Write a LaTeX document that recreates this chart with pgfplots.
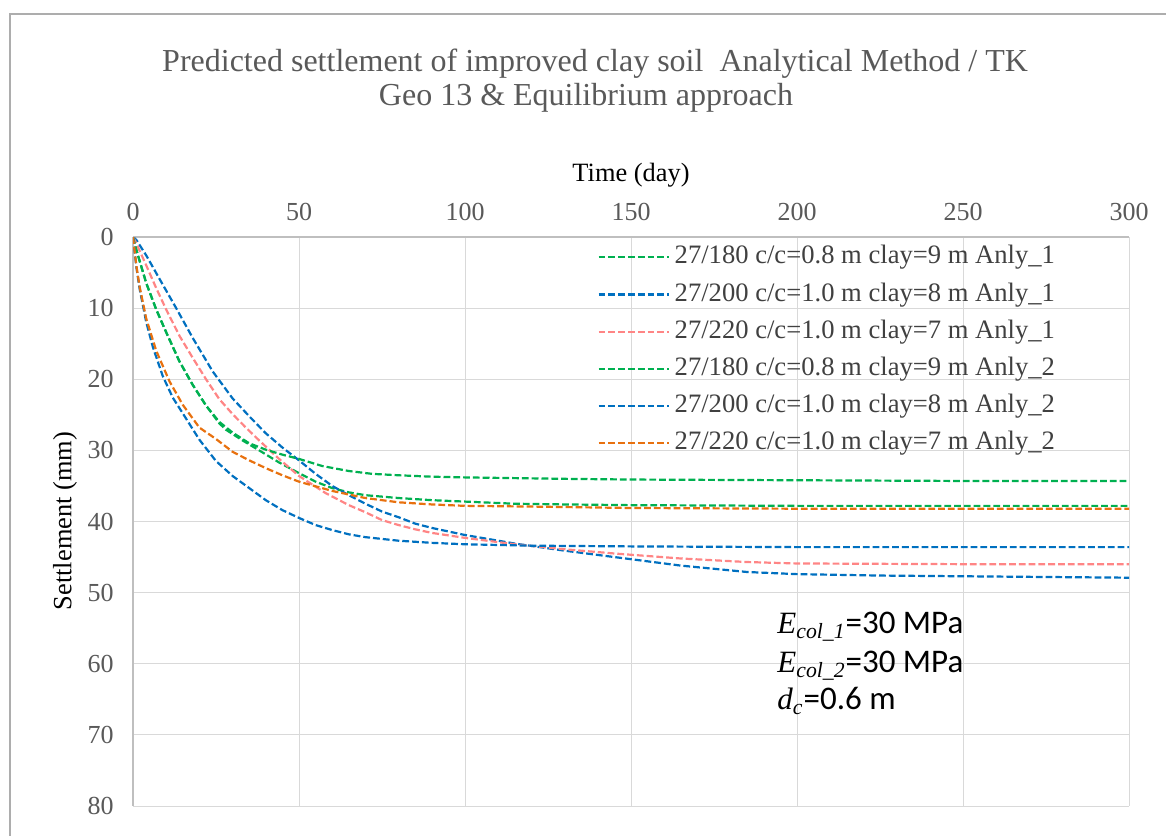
\documentclass[border=0pt]{standalone}
\usepackage{fontspec}
\setmainfont{Liberation Serif}
\newfontfamily\calibri{Carlito}
\usepackage{pgfplots}
\usepackage{pgfplotstable}
\pgfplotsset{compat=1.18}

\definecolor{cgreen}{HTML}{00B050}
\definecolor{cblue}{HTML}{0070C0}
\definecolor{cpink}{HTML}{FF8585}
\definecolor{corange}{HTML}{E8710F}
\definecolor{gridgray}{HTML}{D9D9D9}
\definecolor{axgray}{HTML}{BFBFBF}
\definecolor{framegray}{HTML}{ADADAD}
\definecolor{txtgray}{HTML}{595959}

% settlement (mm) against time (day), one table per curve
\pgfplotstableread{
t s
0 0
1 1.8
4 6.5
7 10.2
10 13.4
14 17.5
18 20.8
22 23.7
26 26.2
28 27.1
33 28.6
38 30.0
44 31.7
50 33.2
55 34.4
60 35.3
65 35.9
70 36.3
80 36.7
90 37.0
100 37.2
115 37.5
130 37.6
150 37.7
200 37.8
300 37.8
}\greenA
\pgfplotstableread{
t s
0 0
1 0.4
4 2.6
8 5.9
13 10.0
18 14.2
24 18.9
30 22.7
35 25.2
40 27.6
45 29.6
50 31.4
55 33.3
60 35.0
65 36.3
70 37.5
75 38.6
80 39.4
85 40.3
90 40.9
100 41.9
115 43.1
130 44.1
145 45.0
165 46.2
185 47.1
200 47.4
225 47.6
250 47.7
275 47.8
300 47.9
}\blueA
\pgfplotstableread{
t s
0 0
1 0.9
4 4.0
7 7.2
10 10.2
14 13.9
18 17.0
22 20.0
26 22.8
30 24.9
34 26.8
38 28.6
44 31.2
50 33.6
58 36.0
65 37.7
70 38.7
75 39.8
80 40.5
85 41.1
90 41.6
100 42.3
115 43.2
130 43.9
145 44.5
165 45.2
185 45.7
200 45.9
250 46.0
300 46.0
}\pinkA
\pgfplotstableread{
t s
0 0
1 1.8
4 6.5
7 10.2
10 13.4
14 17.5
18 20.8
22 23.7
26 26.0
30 27.5
35 29.0
40 29.9
45 30.6
50 31.2
57 32.2
65 32.9
72 33.3
80 33.5
90 33.7
100 33.8
115 33.9
130 34.0
150 34.1
200 34.2
250 34.3
300 34.3
}\greenB
\pgfplotstableread{
t s
0 0
1 4.2
2 7.3
4 12.0
6 15.5
9 19.6
12 22.6
15 24.8
20 28.5
25 31.5
30 33.6
35 35.3
40 37.0
45 38.4
50 39.5
55 40.5
60 41.2
65 41.8
70 42.2
80 42.7
90 43.0
100 43.2
120 43.4
150 43.5
200 43.6
300 43.6
}\blueB
\pgfplotstableread{
t s
0 0
1 4.0
2 7.0
4 11.5
7 16.0
11 20.3
15 23.6
20 26.8
25 28.4
30 30.2
35 31.4
40 32.5
45 33.5
50 34.4
60 35.7
70 36.7
80 37.3
90 37.6
100 37.8
120 37.9
150 38.1
200 38.2
300 38.2
}\orangeB

\newcommand{\ivar}[2]{{\rmfamily\itshape\fontsize{15.5}{17}\selectfont #1\textsubscript{#2}}}

\begin{document}
\begin{tikzpicture}
\useasboundingbox (0,0) rectangle (583pt,417.5pt);
% chart area frame (cut by the picture edge on the right and bottom)
\draw[framegray, line width=0.8pt] (5pt,-5pt) -- (5pt,410.5pt) -- (600pt,410.5pt);

\begin{axis}[
    at={(315.5pt,156.75pt)}, anchor=center,
    scale only axis,
    width=498pt, height=284.5pt,
    xmin=0, xmax=300, ymin=0, ymax=80,
    y dir=reverse,
    xtick={0,50,...,300}, ytick={0,10,...,80},
    axis x line=top, axis y line=left,
    axis line style={draw=axgray, line width=0.6pt, -},
    grid=major,
    major grid style={draw=gridgray, line width=0.5pt},
    major tick length=0pt,
    /pgf/number format/assume math mode=true,
    tick label style={font=\fontsize{13}{15}\selectfont, text=txtgray},
    yticklabel style={xshift=-6.2pt},
    xticklabel style={yshift=4.7pt},
    legend style={
        at={(axis description cs:0.466,1)}, anchor=north west,
        yshift=-2.5pt,
        draw=none, fill=none, inner sep=0pt,
        font=\fontsize{13.3}{15}\selectfont, text=black!75,
        row sep=3.7pt,
        nodes={inner ysep=1.2pt, inner xsep=2.5pt, text height=9.5pt, text depth=3pt},
    },
    legend cell align=left,
    legend image code/.code={\draw[#1] (0pt,0pt) -- (35pt,0pt);},
    every axis plot/.append style={line width=1.1pt, dash pattern=on 3.4pt off 1.5pt},
]
\addplot[cgreen] table[x=t, y=s] {\greenA};
\addlegendentry{27/180 c/c=0.8 m clay=9 m Anly\_1}
\addplot[cblue] table[x=t, y=s] {\blueA};
\addlegendentry{27/200 c/c=1.0 m clay=8 m Anly\_1}
\addplot[cpink] table[x=t, y=s] {\pinkA};
\addlegendentry{27/220 c/c=1.0 m clay=7 m Anly\_1}
\addplot[cgreen] table[x=t, y=s] {\greenB};
\addlegendentry{27/180 c/c=0.8 m clay=9 m Anly\_2}
\addplot[cblue] table[x=t, y=s] {\blueB};
\addlegendentry{27/200 c/c=1.0 m clay=8 m Anly\_2}
\addplot[corange] table[x=t, y=s] {\orangeB};
\addlegendentry{27/220 c/c=1.0 m clay=7 m Anly\_2}

\node[anchor=base west, inner sep=0pt, font=\calibri\fontsize{16.5}{19}\selectfont] at (axis cs:194,55.7) {\ivar{E}{col\_1}=30 MPa};
\node[anchor=base west, inner sep=0pt, font=\calibri\fontsize{16.5}{19}\selectfont] at (axis cs:194,61.2) {\ivar{E}{col\_2}=30 MPa};
\node[anchor=base west, inner sep=0pt, font=\calibri\fontsize{16.5}{19}\selectfont] at (axis cs:194,66.5) {\ivar{d}{c}=0.6 m};
\end{axis}

% title and axis titles
\node[anchor=base, text=txtgray, font=\fontsize{16}{19}\selectfont] at (297.5pt,381.5pt) {Predicted settlement of improved clay soil~ Analytical Method / TK};
\node[anchor=base, text=txtgray, font=\fontsize{16}{19}\selectfont] at (293pt,364.5pt) {Geo 13 \& Equilibrium approach};
\node[anchor=base, font=\fontsize{13.2}{15}\selectfont] at (315.5pt,326.5pt) {Time (day)};
\node[rotate=90, font=\fontsize{13.2}{15}\selectfont] at (32.5pt,157pt) {Settlement (mm)};
\end{tikzpicture}
\end{document}
